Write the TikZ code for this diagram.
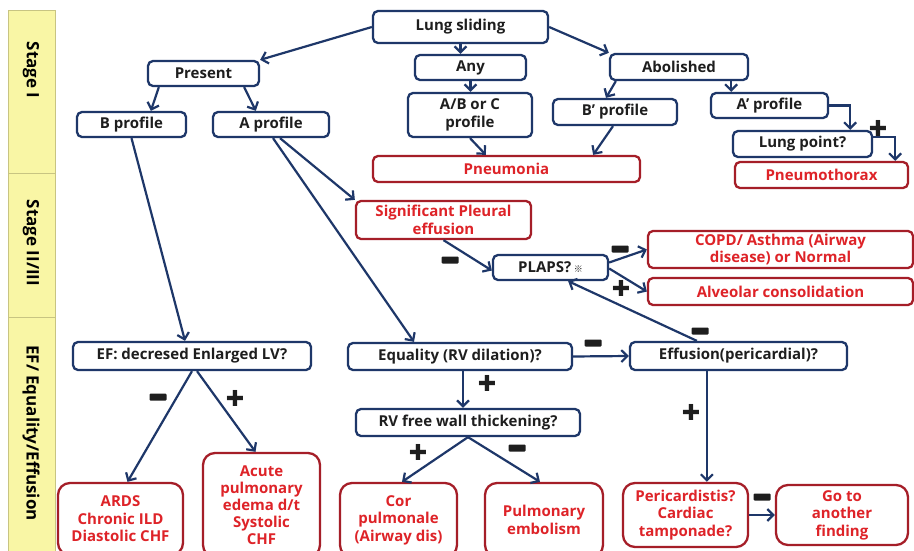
\documentclass[tikz,border=0pt]{standalone}
\usepackage{fontspec}
\setmainfont{Open Sans}
\newfontfamily\cjk{Noto Sans CJK KR}
\newfontfamily\symf{DejaVu Sans}
\usetikzlibrary{arrows.meta,calc}
\definecolor{navy}{RGB}{30,55,105}
\definecolor{dred}{RGB}{165,30,40}
\definecolor{tred}{RGB}{222,35,40}
\definecolor{tblk}{RGB}{30,30,30}
\definecolor{barfill}{RGB}{249,246,165}
\definecolor{baredge}{RGB}{200,196,130}
\tikzset{
 box/.style={draw=navy, line width=2.3pt, rounded corners=5pt, fill=white, text=tblk, inner sep=0pt, align=center, font=\fontsize{15}{17.5}\selectfont\bfseries},
 rbox/.style={box, draw=dred, text=tred},
 rbig/.style={rbox, rounded corners=12pt},
 arr/.style={draw=navy, line width=2.2pt, -{Straight Barb[length=6pt,width=12pt]}},
 minussign/.style={fill=tblk, minimum width=17pt, minimum height=7pt, inner sep=0pt, rounded corners=1pt},
 plussign/.style={text=tblk, inner sep=0pt, font=\symf\fontsize{22}{22}\selectfont},
 stagebar/.style={fill=barfill, draw=baredge, line width=0.8pt},
 stagetxt/.style={rotate=-90, text=black, inner sep=0pt, font=\fontsize{17}{17}\selectfont\bfseries},
}
\begin{document}
\begin{tikzpicture}[x=1pt,y=-1pt]
\useasboundingbox (0,0) rectangle (914,551);
\clip (0,0) rectangle (914,551);
\fill[white] (0,0) rectangle (914,551);
% stage bar
\draw[stagebar] (8,10) rectangle (55,173);
\draw[stagebar] (8,173) rectangle (55,317);
\draw[stagebar] (8,317) rectangle (55,560);
\node[stagetxt] (s1) at (31,70) {Stage I};
\node[stagetxt] (s2) at (31,243) {Stage II/III};
\node[stagetxt] (s3) at (31,433) {EF/ Equality/Effusion};
% stage I
\node[box, minimum width=175pt, minimum height=32pt] (ls) at (460.5,27) {Lung sliding};
\node[box, minimum width=111pt, minimum height=25pt] (any) at (470.5,67.5) {Any};
\node[box, minimum width=124pt, minimum height=44pt] (abc) at (470,115) {A/B or C\\profile};
\node[box, minimum width=111pt, minimum height=25pt] (present) at (203.5,73.5) {Present};
\node[box, minimum width=109pt, minimum height=25pt] (bprof) at (131.5,124.5) {B profile};
\node[box, minimum width=116pt, minimum height=25pt] (aprof) at (271,124.5) {A profile};
\node[rbox, minimum width=267pt, minimum height=26pt] (pna) at (506.5,169) {Pneumonia};
\node[box, minimum width=138pt, minimum height=26pt] (abol) at (679,67) {Abolished};
\node[box, minimum width=124pt, minimum height=26pt] (bpp) at (615,112) {B’ profile};
\node[box, minimum width=117pt, minimum height=25pt] (app) at (769.5,105.5) {A’ profile};
\node[box, minimum width=139pt, minimum height=26pt] (lp) at (802.5,144) {Lung point?};
\node[rbox, minimum width=173pt, minimum height=26pt] (ptx) at (821.5,175) {Pneumothorax};
% stage II/III
\node[rbox, minimum width=175pt, minimum height=38pt] (spe) at (443.5,220) {Significant Pleural\\effusion};
\node[box, minimum width=115pt, minimum height=25pt] (plaps) at (550.5,267.5) {PLAPS?\,{\cjk\mdseries\fontsize{9}{9}\selectfont ※}};
\node[rbox, minimum width=265pt, minimum height=37pt] (copd) at (780.5,249.5) {COPD/ Asthma (Airway\\disease) or Normal};
\node[rbox, minimum width=265pt, minimum height=27pt] (alv) at (780.5,291.5) {Alveolar consolidation};
% EF stage
\node[box, minimum width=238pt, minimum height=28pt] (ef) at (192,356) {EF: decresed Enlarged LV?};
\node[box, minimum width=224pt, minimum height=27pt] (eq) at (460,356.5) {Equality (RV dilation)?};
\node[box, minimum width=217pt, minimum height=28pt] (eff) at (738.5,356) {Effusion(pericardial)?};
\node[box, minimum width=224pt, minimum height=27pt] (rv) at (468,422.5) {RV free wall thickening?};
\node[rbig, minimum width=125pt, minimum height=72pt] (ards) at (120.5,519) {ARDS\\Chronic ILD\\Diastolic CHF};
\node[rbig, minimum width=117pt, minimum height=104pt, font=\fontsize{15}{17}\selectfont\bfseries] (acute) at (261.5,505) {Acute\\pulmonary\\edema d/t\\Systolic\\CHF};
\node[rbig, minimum width=117pt, minimum height=74pt] (cor) at (398.5,520) {Cor\\pulmonale\\(Airway dis)};
\node[rbig, minimum width=118pt, minimum height=74pt] (pe) at (544,520) {Pulmonary\\embolism};
\node[rbig, minimum width=125pt, minimum height=64pt] (peri) at (685.5,515) {Pericardistis?\\Cardiac\\tamponade?};
\node[rbig, minimum width=132pt, minimum height=60pt] (goto) at (842,515) {Go to\\another\\finding};
% connectors
\draw[arr] (ls.west) -- (present.north east);
\draw[arr] (ls.south) -- (ls.south |- any.north);
\draw[arr] (any.south) -- (any.south |- abc.north);
\draw[arr] (ls.east) -- (abol.north west);
\draw[arr] ([xshift=12pt]present.south west) -- ([xshift=75pt]bprof.north west);
\draw[arr] ([xshift=-16pt]present.south east) -- ([xshift=44pt]aprof.north west);
\draw[arr] (abc.south) -- ([xshift=114pt]pna.north west);
\draw[arr] ([xshift=7pt]abol.south west) -- ([xshift=-9pt]bpp.north);
\draw[arr] ([xshift=-18pt]abol.south east) -- ([xshift=-18pt]abol.south east |- app.north);
\draw[arr] ([xshift=-2pt]bpp.south) -- ([xshift=-48pt]pna.north east);
\draw[arr] (app.east) -| ([xshift=-23pt]lp.north east);
\draw[arr] ([yshift=7pt]lp.east) -| ([xshift=-14pt]ptx.north east);
\draw[arr] ([xshift=9pt]aprof.south) -- (spe.north west);
\draw[arr] ([xshift=2pt]aprof.south) -- ([xshift=-46pt]eq.north);
\draw[arr] (bprof.south) -- ([xshift=-7pt]ef.north);
\draw[arr] (spe.south) -- ([yshift=-3pt]plaps.west);
\draw[arr] ([yshift=5pt]plaps.east) -- (copd.west);
\draw[arr] ([yshift=-1pt]plaps.east) -- (alv.west);
\draw[arr] ([xshift=68pt]eff.north west) -- ([xshift=-41pt]plaps.south east);
\draw[arr] (ef.south) -- ([xshift=7pt]ards.north);
\draw[arr] ([xshift=5pt]ef.south) -- ([xshift=-6pt]acute.north);
\draw[arr] ([xshift=3pt]eq.south) -- ([xshift=3pt]eq.south |- rv.north);
\draw[arr] (eq.east) -- (eff.west);
\draw[arr] (rv.south) -- ([xshift=3.5pt]cor.north);
\draw[arr] (rv.south) -- ([xshift=-4pt]pe.north);
\draw[arr] ([xshift=78pt]eff.south west) -- ([xshift=78pt]eff.south west |- peri.north);
\draw[arr] (peri.east) -- (goto.west);
% signs
\node[plussign] (p1) at (878,128) {✚};
\node[minussign] (m1) at (450,260) {};
\node[minussign] (m2) at (620,249) {};
\node[plussign] (p2) at (621,288) {✚};
\node[minussign] (m3) at (700,331) {};
\node[minussign] (m4) at (158,397) {};
\node[plussign] (p3) at (235,398) {✚};
\node[plussign] (p4) at (487,383) {✚};
\node[minussign] (m5) at (593,343) {};
\node[plussign] (p5) at (418,452) {✚};
\node[minussign] (m6) at (517,448) {};
\node[plussign] (p6) at (691,412) {✚};
\node[minussign] (m7) at (762,497) {};
\end{tikzpicture}
\end{document}
